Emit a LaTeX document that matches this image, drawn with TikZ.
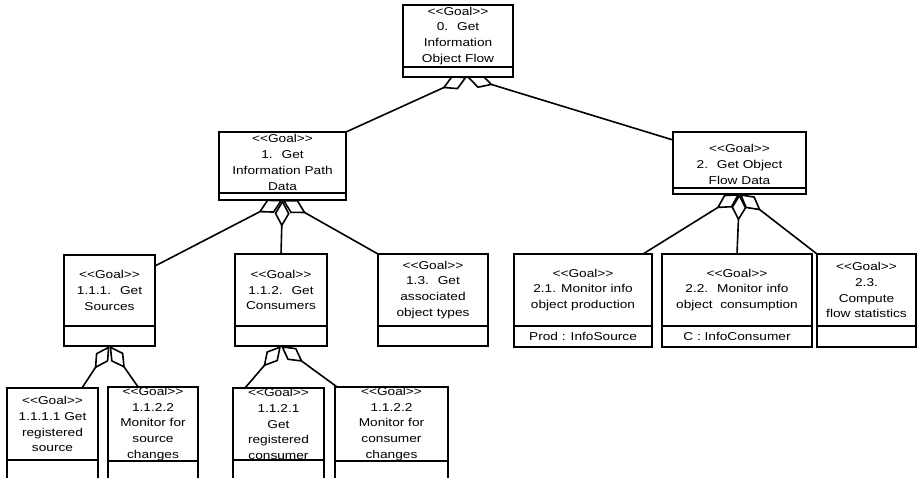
\documentclass[tikz,border=0pt]{standalone}
\usepackage{fontspec}
\setmainfont{Liberation Sans}[FakeStretch=1.2]
\usetikzlibrary{arrows.meta,backgrounds}

% stereotype label; the kerns keep << and >> from turning into guillemets
\newcommand\goal{<\kern0pt<Goal>\kern0pt>}

\tikzset{
  box/.style={draw, fill=white, line width=1.7pt, inner sep=0pt, outer sep=0pt,
              align=center, font=\fontsize{11.4}{15.9}\selectfont},
  agg/.style={line width=1.6pt,
              -{Diamond[open, length=27pt, width=15pt, line width=1.6pt]}},
}

% goal class box: #1 name, #2 left, #3 right, #4 top, #5 divider, #6 bottom,
% #7 name compartment text, #8 lower compartment text
\newcommand\goalbox[8]{%
  \node[box, minimum width={(#3-#2)*1pt}, minimum height={(#5-#4)*1pt}]
    (#1) at ({(#2+#3)/2},{(#4+#5)/2}) {#7};
  \node[box, minimum width={(#3-#2)*1pt}, minimum height={(#6-#5)*1pt}, anchor=north]
    (#1-low) at (#1.south) {#8};
}

\begin{document}
\begin{tikzpicture}[x=1pt, y=-1pt]
  \useasboundingbox (0,0) rectangle (918,478);
  \clip (0,0) rectangle (918,478);

  % root goal
  \goalbox{n0}{403}{513}{5}{67}{77}{\goal\\0.~ Get\\Information\\Object Flow}{}

  % second level (the strut sets the text of goal 2 a little lower)
  \goalbox{n1}{219}{346}{132}{193}{200}{\goal\\1.~ Get\\Information Path\\Data}{}
  \goalbox{n2}{673}{806}{132}{188}{194}{\rule{0pt}{17pt}\goal\\2.~ Get Object\\Flow Data}{}

  % third level
  \goalbox{n111}{64}{155}{255}{326}{346}{\goal\\1.1.1.~ Get\\Sources}{}
  \goalbox{n112}{235}{327}{254}{326}{346}{\goal\\1.1.2.~ Get\\Consumers}{}
  \goalbox{n13}{378}{488}{254}{326}{346}{\goal\\1.3.~ Get\\associated\\object types}{}
  \goalbox{n21}{514}{652}{254}{326}{347}{\goal\\2.1. Monitor info\\object production}{Prod : InfoSource}
  \goalbox{n22}{662}{812}{254}{326}{347}{\goal\\2.2.~ Monitor info\\object~ consumption}{C : InfoConsumer}
  \goalbox{n23}{817}{916}{254}{326}{347}{\goal\\2.3.\\Compute\\flow statistics}{}

  % fourth level
  \goalbox{n1111}{7}{98}{388}{460}{500}{\goal\\1.1.1.1 Get\\registered\\source}{}
  \goalbox{n1122s}{108}{198}{388}{460}{500}{\goal\\1.1.2.2\\Monitor for\\source\\changes}{}
  \goalbox{n1121}{233}{324}{388}{460}{500}{\goal\\1.1.2.1\\Get\\registered\\consumer}{}
  \goalbox{n1122c}{335}{448}{388}{460}{500}{\goal\\1.1.2.2\\Monitor for\\consumer\\changes}{}

  % aggregation links, drawn behind the boxes
  \begin{scope}[on background layer]
    \draw[agg] (n1.north east) -- ([xshift=9pt]n0-low.south);
    \draw[agg] ([yshift=-8pt]n2.north west) -- ([xshift=9pt]n0-low.south);

    \draw[agg] ([yshift=-11pt]n111.north east) -- (n1-low.south);
    \draw[agg] (n112.north) -- (n1-low.south);
    \draw[agg] (n13.north west) -- (n1-low.south);

    \draw[agg] ([xshift=-9pt]n21.north east) -- (n2-low.south);
    \draw[agg] (n22.north) -- (n2-low.south);
    \draw[agg] (n23.north west) -- (n2-low.south);

    \draw[agg] ([xshift=-16pt]n1111.north east) -- (n111-low.south);
    \draw[agg] ([xshift=30pt]n1122s.north west) -- (n111-low.south);

    \draw[agg] ([xshift=12pt]n1121.north west) -- (n112-low.south);
    \draw[agg] ([xshift=2pt]n1122c.north west) -- (n112-low.south);
  \end{scope}
\end{tikzpicture}
\end{document}
